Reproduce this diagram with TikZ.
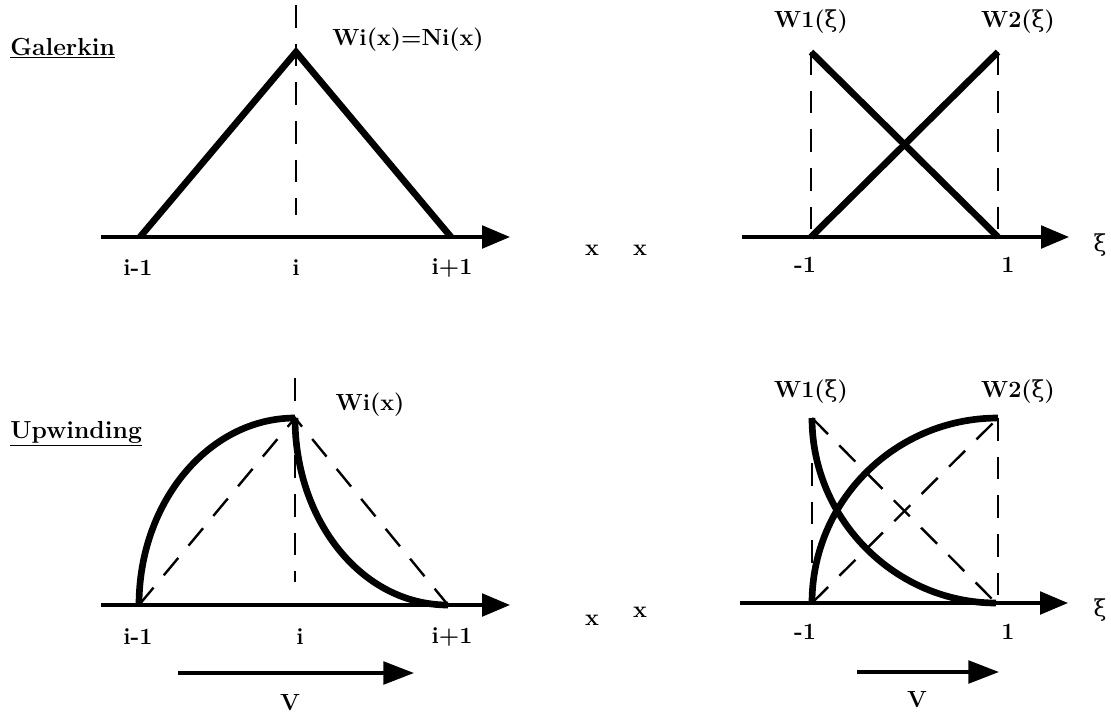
\documentclass[tikz,border=0pt]{standalone}
\usepackage{fontspec}
\newfontfamily\grk{DejaVu Serif}
\usetikzlibrary{arrows.meta}
\newcommand{\xii}{{\grk\mdseries ξ}}
\begin{document}
\begin{tikzpicture}[x=0.75pt,y=-0.75pt,
  axis/.style={line width=2.6pt,-{Triangle[length=21pt,width=17pt]}},
  varrow/.style={line width=2.6pt,-{Triangle[length=23pt,width=17pt]}},
  thk/.style={line width=5pt,line join=miter},
  dsh/.style={line width=1.8pt,dash pattern=on 17pt off 12pt},
  lbl/.style={font=\fontsize{17.5}{20}\selectfont\bfseries,inner sep=0pt},
  ttl/.style={font=\fontsize{18.5}{21}\selectfont\bfseries,inner sep=0pt}]
\useasboundingbox (0,0) rectangle (1111,719);

% titles
\node[ttl,anchor=base west] (gal) at (10,55) {\underline{Galerkin}};
\node[ttl,anchor=base west] (upw) at (10,438) {\underline{Upwinding}};

% ---------- top left ----------
\coordinate (tlA0) at (101,237); \coordinate (tlA1) at (510,237);
\coordinate (tlL) at (140,237); \coordinate (tlT) at (296,52); \coordinate (tlR) at (451,237);
\coordinate (tlD0) at (296,5); \coordinate (tlD1) at (296,215);
\draw[axis] (tlA0) -- (tlA1);
\draw[dsh] (tlD0) -- (tlD1);
\draw[thk] (tlL) -- (tlT) -- (tlR);
\node[lbl] (tlW) at (408,40) {Wi(x)=Ni(x)};
\node[lbl] (tl1) at (138,268) {i-1};
\node[lbl] (tl2) at (296,268) {i};
\node[lbl] (tl3) at (452,268) {i+1};
\node[lbl] (tlx) at (592,250) {x};

% ---------- top right ----------
\coordinate (trA0) at (742,237); \coordinate (trA1) at (1069,237);
\coordinate (trL) at (811,237); \coordinate (trR) at (998,237);
\coordinate (trLT) at (811,52); \coordinate (trRT) at (998,52);
\draw[axis] (trA0) -- (trA1);
\draw[dsh] (trLT) -- (trL);
\draw[dsh] (trRT) -- (trR);
\draw[thk] (trLT) -- (trR);
\draw[thk] (trL) -- (trRT);
\node[lbl] (trW1) at (811,22) {W1(\xii)};
\node[lbl] (trW2) at (1018,22) {W2(\xii)};
\node[lbl] (tr1) at (805,265) {-1};
\node[lbl] (tr2) at (1008,265) {1};
\node[lbl] (trx) at (640,250) {x};
\node[lbl] (trxi) at (1100,245) {\xii};

% ---------- bottom left ----------
\coordinate (blA0) at (101,605); \coordinate (blA1) at (510,605);
\coordinate (blL) at (139,605); \coordinate (blT) at (295,418); \coordinate (blR) at (448,605);
\coordinate (blD0) at (295,378); \coordinate (blD1) at (295,582);
\draw[axis] (blA0) -- (blA1);
\draw[dsh] (blD0) -- (blD1);
\draw[dsh] (blL) -- (blT) -- (blR);
\draw[thk] (blL) .. controls (139,502) and (209,418) .. (blT);
\draw[thk] (blT) .. controls (295,521) and (362,605) .. (blR);
\node[lbl] (blW) at (370,405) {Wi(x)};
\node[lbl] (bl1) at (138,637) {i-1};
\node[lbl] (bl2) at (300,637) {i};
\node[lbl] (bl3) at (452,637) {i+1};
\node[lbl] (blx) at (592,620) {x};
\coordinate (blV0) at (178,673); \coordinate (blV1) at (414,673);
\draw[varrow] (blV0) -- (blV1);
\node[lbl] (blV) at (290,703) {V};

% ---------- bottom right ----------
\coordinate (brA0) at (740,603); \coordinate (brA1) at (1068,603);
\coordinate (brL) at (812,603); \coordinate (brR) at (996,603);
\coordinate (brLT) at (812,418); \coordinate (brRT) at (998,418);
\coordinate (brLD) at (812,463); \coordinate (brRB) at (998,603);
\draw[axis] (brA0) -- (brA1);
\draw[dsh] (brLD) -- (brL);
\draw[dsh] (brRT) -- (brRB);
\draw[dsh] (brLT) -- (brR);
\draw[dsh] (brL) -- (brRT);
\draw[thk] (brLT) .. controls (812,520) and (896,603) .. (brR);
\draw[thk] (brL) .. controls (812,501) and (895,418) .. (brRT);
\node[lbl] (brW1) at (811,392) {W1(\xii)};
\node[lbl] (brW2) at (1018,392) {W2(\xii)};
\node[lbl] (br1) at (805,632) {-1};
\node[lbl] (br2) at (1008,632) {1};
\node[lbl] (brx) at (640,612) {x};
\node[lbl] (brxi) at (1100,610) {\xii};
\coordinate (brV0) at (857,672); \coordinate (brV1) at (999,672);
\draw[varrow] (brV0) -- (brV1);
\node[lbl] (brV) at (917,700) {V};
\end{tikzpicture}
\end{document}
